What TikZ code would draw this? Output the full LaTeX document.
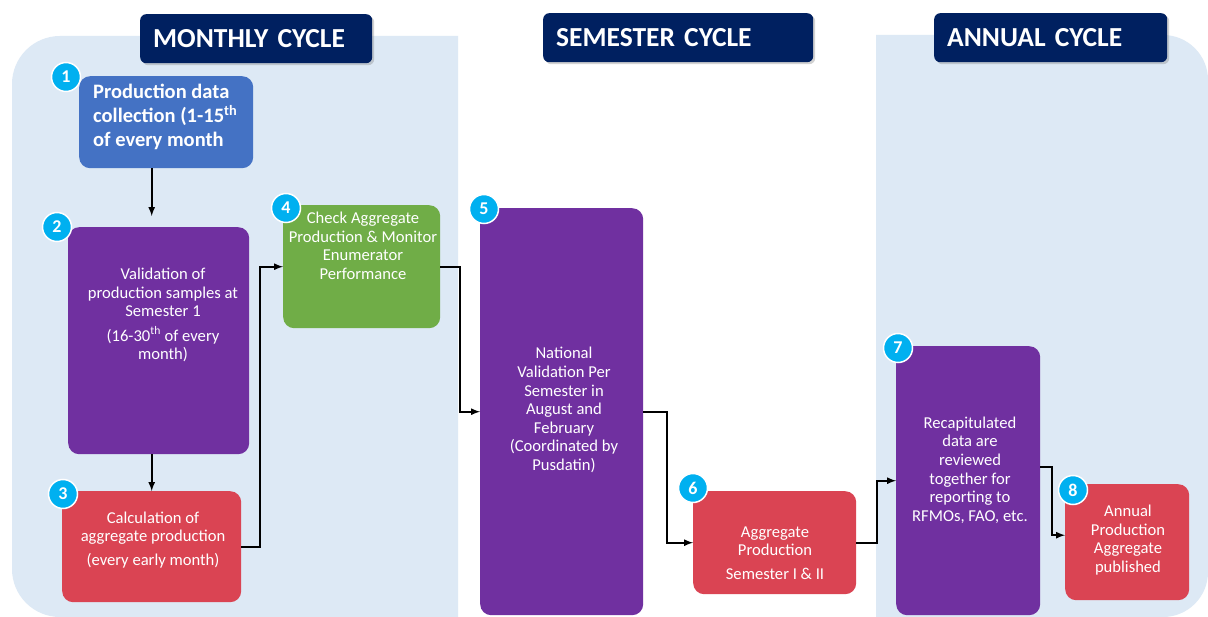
\documentclass[tikz,border=0pt]{standalone}
\usepackage{fontspec}
\setmainfont{Carlito}
\usepackage{tikz}
\usetikzlibrary{shapes,arrows,positioning,calc,shadows}

\definecolor{panelblue}{RGB}{221,233,245}
\definecolor{navy}{RGB}{0,32,96}
\definecolor{nblue}{RGB}{68,114,196}
\definecolor{npurple}{RGB}{112,48,160}
\definecolor{ngreen}{RGB}{112,173,71}
\definecolor{nred}{RGB}{218,68,83}
\definecolor{badgecyan}{RGB}{0,176,240}

\begin{document}
\begin{tikzpicture}[x=1pt, y=-1pt,
    box/.style={rounded corners=11pt, anchor=north west, inner sep=0pt},
    txt/.style={text=white, align=center, inner sep=0pt, font=\fontsize{16.6}{18.6}\selectfont},
    header/.style={fill=navy, text=white, rounded corners=6pt, anchor=north west,
        minimum height=49pt, inner xsep=13pt, inner ysep=0pt, align=left,
        font=\fontsize{27.5}{30}\selectfont\bfseries,
        drop shadow={shadow xshift=2pt, shadow yshift=-2pt, opacity=0.35}},
    badge/.style={circle, fill=badgecyan, draw=white, line width=1.5pt, minimum size=29pt,
        inner sep=0pt, text=white, font=\fontsize{18}{18}\selectfont\bfseries},
    conn/.style={->, >=latex, line width=2pt}]
    \useasboundingbox[fill=white] (0,0) rectangle (1208,617);

    % background panels
    \fill[panelblue] (458,36) -- (60,36) arc[start angle=270, end angle=180, radius=48]
        -- (12,569) arc[start angle=180, end angle=90, radius=48] -- (458,617) -- cycle;
    \fill[panelblue] (876,35) -- (1163,35) arc[start angle=270, end angle=360, radius=45]
        -- (1208,572) arc[start angle=0, end angle=90, radius=45] -- (876,617) -- cycle;

    % cycle headers
    \node[header, text width=206pt] (hmonth) at (140,14) {MONTHLY CYCLE};
    \node[header, text width=244pt] (hsem) at (543,13) {SEMESTER CYCLE};
    \node[header, text width=207pt] (hyear) at (934,13) {ANNUAL CYCLE};

    % monthly cycle
    \node[box, fill=nblue, minimum width=174pt, minimum height=92pt] (n1) at (79,76) {};
    \node[txt, anchor=west, align=left, font=\fontsize{20.5}{24.2}\selectfont\bfseries] (t1) at (93,117)
        {Production data\\collection (1-15\textsuperscript{th}\\of every month};
    \node[box, fill=npurple, minimum width=181pt, minimum height=227pt] (n2) at (68,227) {};
    \node[txt] (t2) at (163,315) {Validation of\\production samples at\\Semester 1\\[6pt](16-30\textsuperscript{th} of every\\month)};
    \node[box, fill=nred, minimum width=179pt, minimum height=111pt] (n3) at (62,491) {};
    \node[txt] (t3) at (153,540) {Calculation of\\aggregate production\\[5pt](every early month)};
    \node[box, fill=ngreen, minimum width=157pt, minimum height=123pt] (n4) at (283,205) {};
    \node[txt] (t4) at (363,246) {Check Aggregate\\Production \& Monitor\\Enumerator\\Performance};

    % semester cycle
    \node[box, fill=npurple, minimum width=163pt, minimum height=407pt] (n5) at (480,208) {};
    \node[txt] (t5) at (564,410) {National\\Validation Per\\Semester in\\August and\\February\\(Coordinated by\\Pusdatin)};
    \node[box, fill=nred, minimum width=163pt, minimum height=103pt] (n6) at (693,491) {};
    \node[txt] (t6) at (775,553) {Aggregate\\Production\\[5pt]Semester I \& II};

    % annual cycle
    \node[box, fill=npurple, minimum width=144pt, minimum height=269pt] (n7) at (896,346) {};
    \node[txt] (t7) at (970,470) {Recapitulated\\data are\\reviewed\\together for\\reporting to\\RFMOs, FAO, etc.};
    \node[box, fill=nred, minimum width=124pt, minimum height=116pt] (n8) at (1065,484) {};
    \node[txt] (t8) at (1128,540) {Annual\\Production\\Aggregate\\published};

    % numbers
    \foreach \n/\x/\y in {1/66/77, 2/57/227, 3/63/494, 4/286/208, 5/484/209, 6/693/488, 7/898/348, 8/1073/490}
        \node[badge] (b\n) at (\x,\y) {\n};

    % flow
    \draw[conn, shorten >=11pt] (n1.south -| n3.north) -- (n2.north -| n3.north);
    \draw[conn] (n2.south -| n3.north) -- (n3.north);
    \draw[conn] (n3.east) -- ++(19,0) |- (n4.west);
    \draw[conn] (n4.east) -- ++(20,0) |- (n5.west);
    \draw[conn] (n5.east) -- ++(24,0) |- (n6.west);
    \draw[conn] (n6.east) -- ++(21,0) |- (n7.west);
    \draw[conn] ([yshift=14pt]n7.east) -- ++(12,0) |- ([yshift=7pt]n8.west);
\end{tikzpicture}
\end{document}
